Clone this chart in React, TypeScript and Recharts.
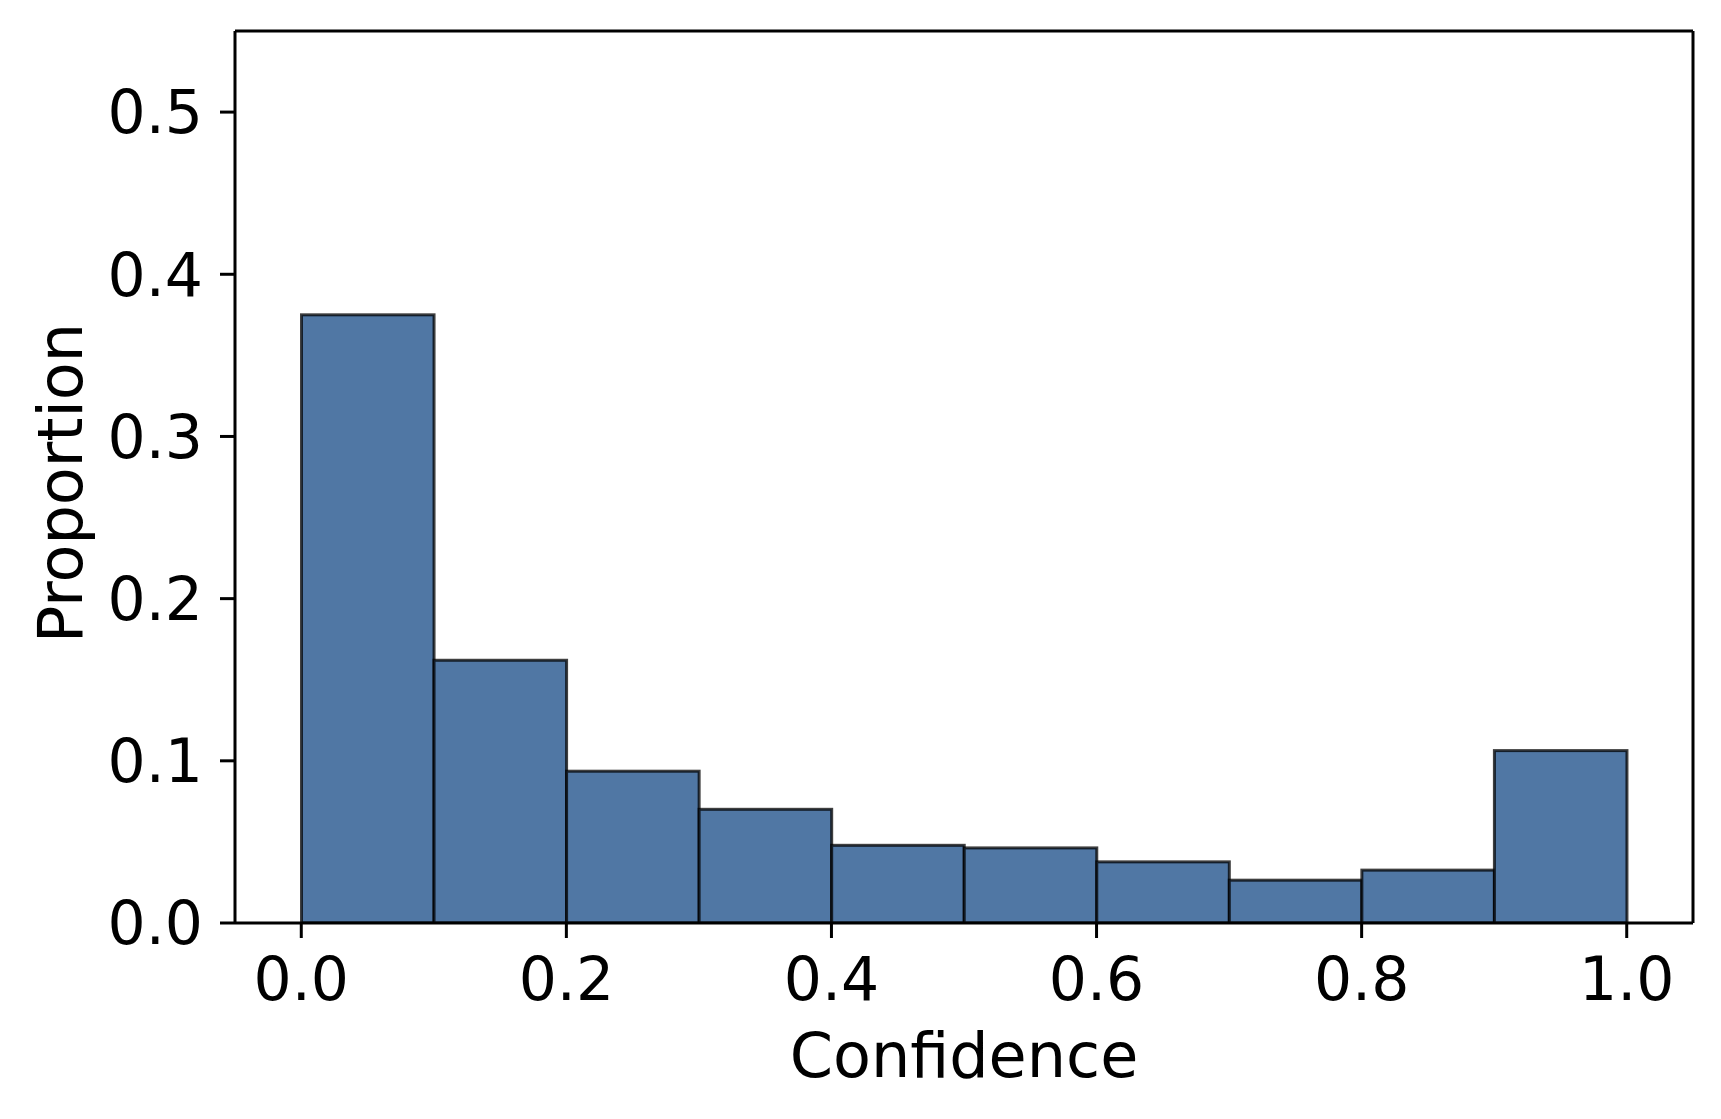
import React from 'react';
import { BarChart, Bar, XAxis, YAxis } from 'recharts';

const binCenters = [0.05, 0.15, 0.25, 0.35, 0.45, 0.55, 0.65, 0.75, 0.85, 0.95];
const proportions = [0.375, 0.162, 0.0936, 0.0701, 0.0479, 0.0463, 0.0377, 0.0264, 0.0326, 0.1063];
const xTicks = [0, 0.2, 0.4, 0.6, 0.8, 1.0];
const yTicks = [0, 0.1, 0.2, 0.3, 0.4, 0.5];
const xDomain = [-0.05, 1.05];
const yDomain = [0, 0.55];
const binWidth = 0.1;

const data = binCenters.map((c, i) => ({ x: c, y: proportions[i] }));

const W = 1721;
const H = 1119;
const M = { top: 30, right: 27, left: 0, bottom: 0 };
const Y_AXIS_W = 235;
const X_AXIS_H = 196;
const PLOT_W = W - M.right - 1 - Y_AXIS_W;
const BAR_PX = (PLOT_W * binWidth) / (xDomain[1] - xDomain[0]);

const FONT = 'DejaVu Sans';
const FS_TICK = 60;
const FS_LABEL = 62;

const tickStyle = { fontFamily: FONT, fontSize: FS_TICK, fill: '#000' };

const XLabel = (props: any) => {
  const vb = props.viewBox || {};
  const cx = vb.x + vb.width / 2;
  return (
    <text x={cx} y={1077} textAnchor="middle" fontFamily={FONT} fontSize={FS_LABEL} fill="#000">
      Confidence
    </text>
  );
};

const YLabel = (props: any) => {
  const vb = props.viewBox || {};
  const cy = vb.y + vb.height / 2 + 6;
  const bx = 82;
  return (
    <text
      x={bx}
      y={cy}
      textAnchor="middle"
      fontFamily={FONT}
      fontSize={FS_LABEL}
      fill="#000"
      transform={`rotate(-90, ${bx}, ${cy})`}
    >
      Proportion
    </text>
  );
};

const HistBar = (props: any) => {
  const { x, y, width, height } = props;
  if (height == null || height <= 0) return null;
  const cx = x + width / 2;
  return (
    <rect
      x={cx - BAR_PX / 2}
      y={y}
      width={BAR_PX}
      height={height}
      fill="#5077a4"
      stroke="#000"
      strokeOpacity={0.75}
      strokeWidth={3}
    />
  );
};

export default function App() {
  return (
    <div style={{ position: 'fixed', left: 0, top: 0, width: W, height: H, background: '#fff' }}>
      <BarChart width={W} height={H} data={data} margin={M} barCategoryGap={0} barGap={0}>
        <XAxis
          xAxisId="b"
          dataKey="x"
          type="number"
          domain={xDomain}
          allowDataOverflow
          ticks={xTicks}
          tickFormatter={(v: number) => v.toFixed(1)}
          height={X_AXIS_H}
          axisLine={{ stroke: '#000', strokeWidth: 3 }}
          tickLine={{ stroke: '#000', strokeWidth: 3 }}
          tickSize={15}
          tickMargin={19}
          tick={tickStyle}
          label={<XLabel />}
        />
        <XAxis
          xAxisId="t"
          orientation="top"
          dataKey="x"
          type="number"
          domain={xDomain}
          allowDataOverflow
          height={1}
          tick={false}
          tickLine={false}
          axisLine={{ stroke: '#000', strokeWidth: 3 }}
        />
        <YAxis
          yAxisId="l"
          type="number"
          domain={yDomain}
          allowDataOverflow
          ticks={yTicks}
          tickFormatter={(v: number) => v.toFixed(1)}
          width={Y_AXIS_W}
          axisLine={{ stroke: '#000', strokeWidth: 3 }}
          tickLine={{ stroke: '#000', strokeWidth: 3 }}
          tickSize={15}
          tickMargin={17}
          tick={tickStyle}
          label={<YLabel />}
        />
        <YAxis
          yAxisId="r"
          orientation="right"
          type="number"
          domain={yDomain}
          allowDataOverflow
          width={1}
          tick={false}
          tickLine={false}
          axisLine={{ stroke: '#000', strokeWidth: 3 }}
        />
        <Bar
          xAxisId="b"
          yAxisId="l"
          dataKey="y"
          shape={<HistBar />}
          isAnimationActive={false}
        />
      </BarChart>
    </div>
  );
}
